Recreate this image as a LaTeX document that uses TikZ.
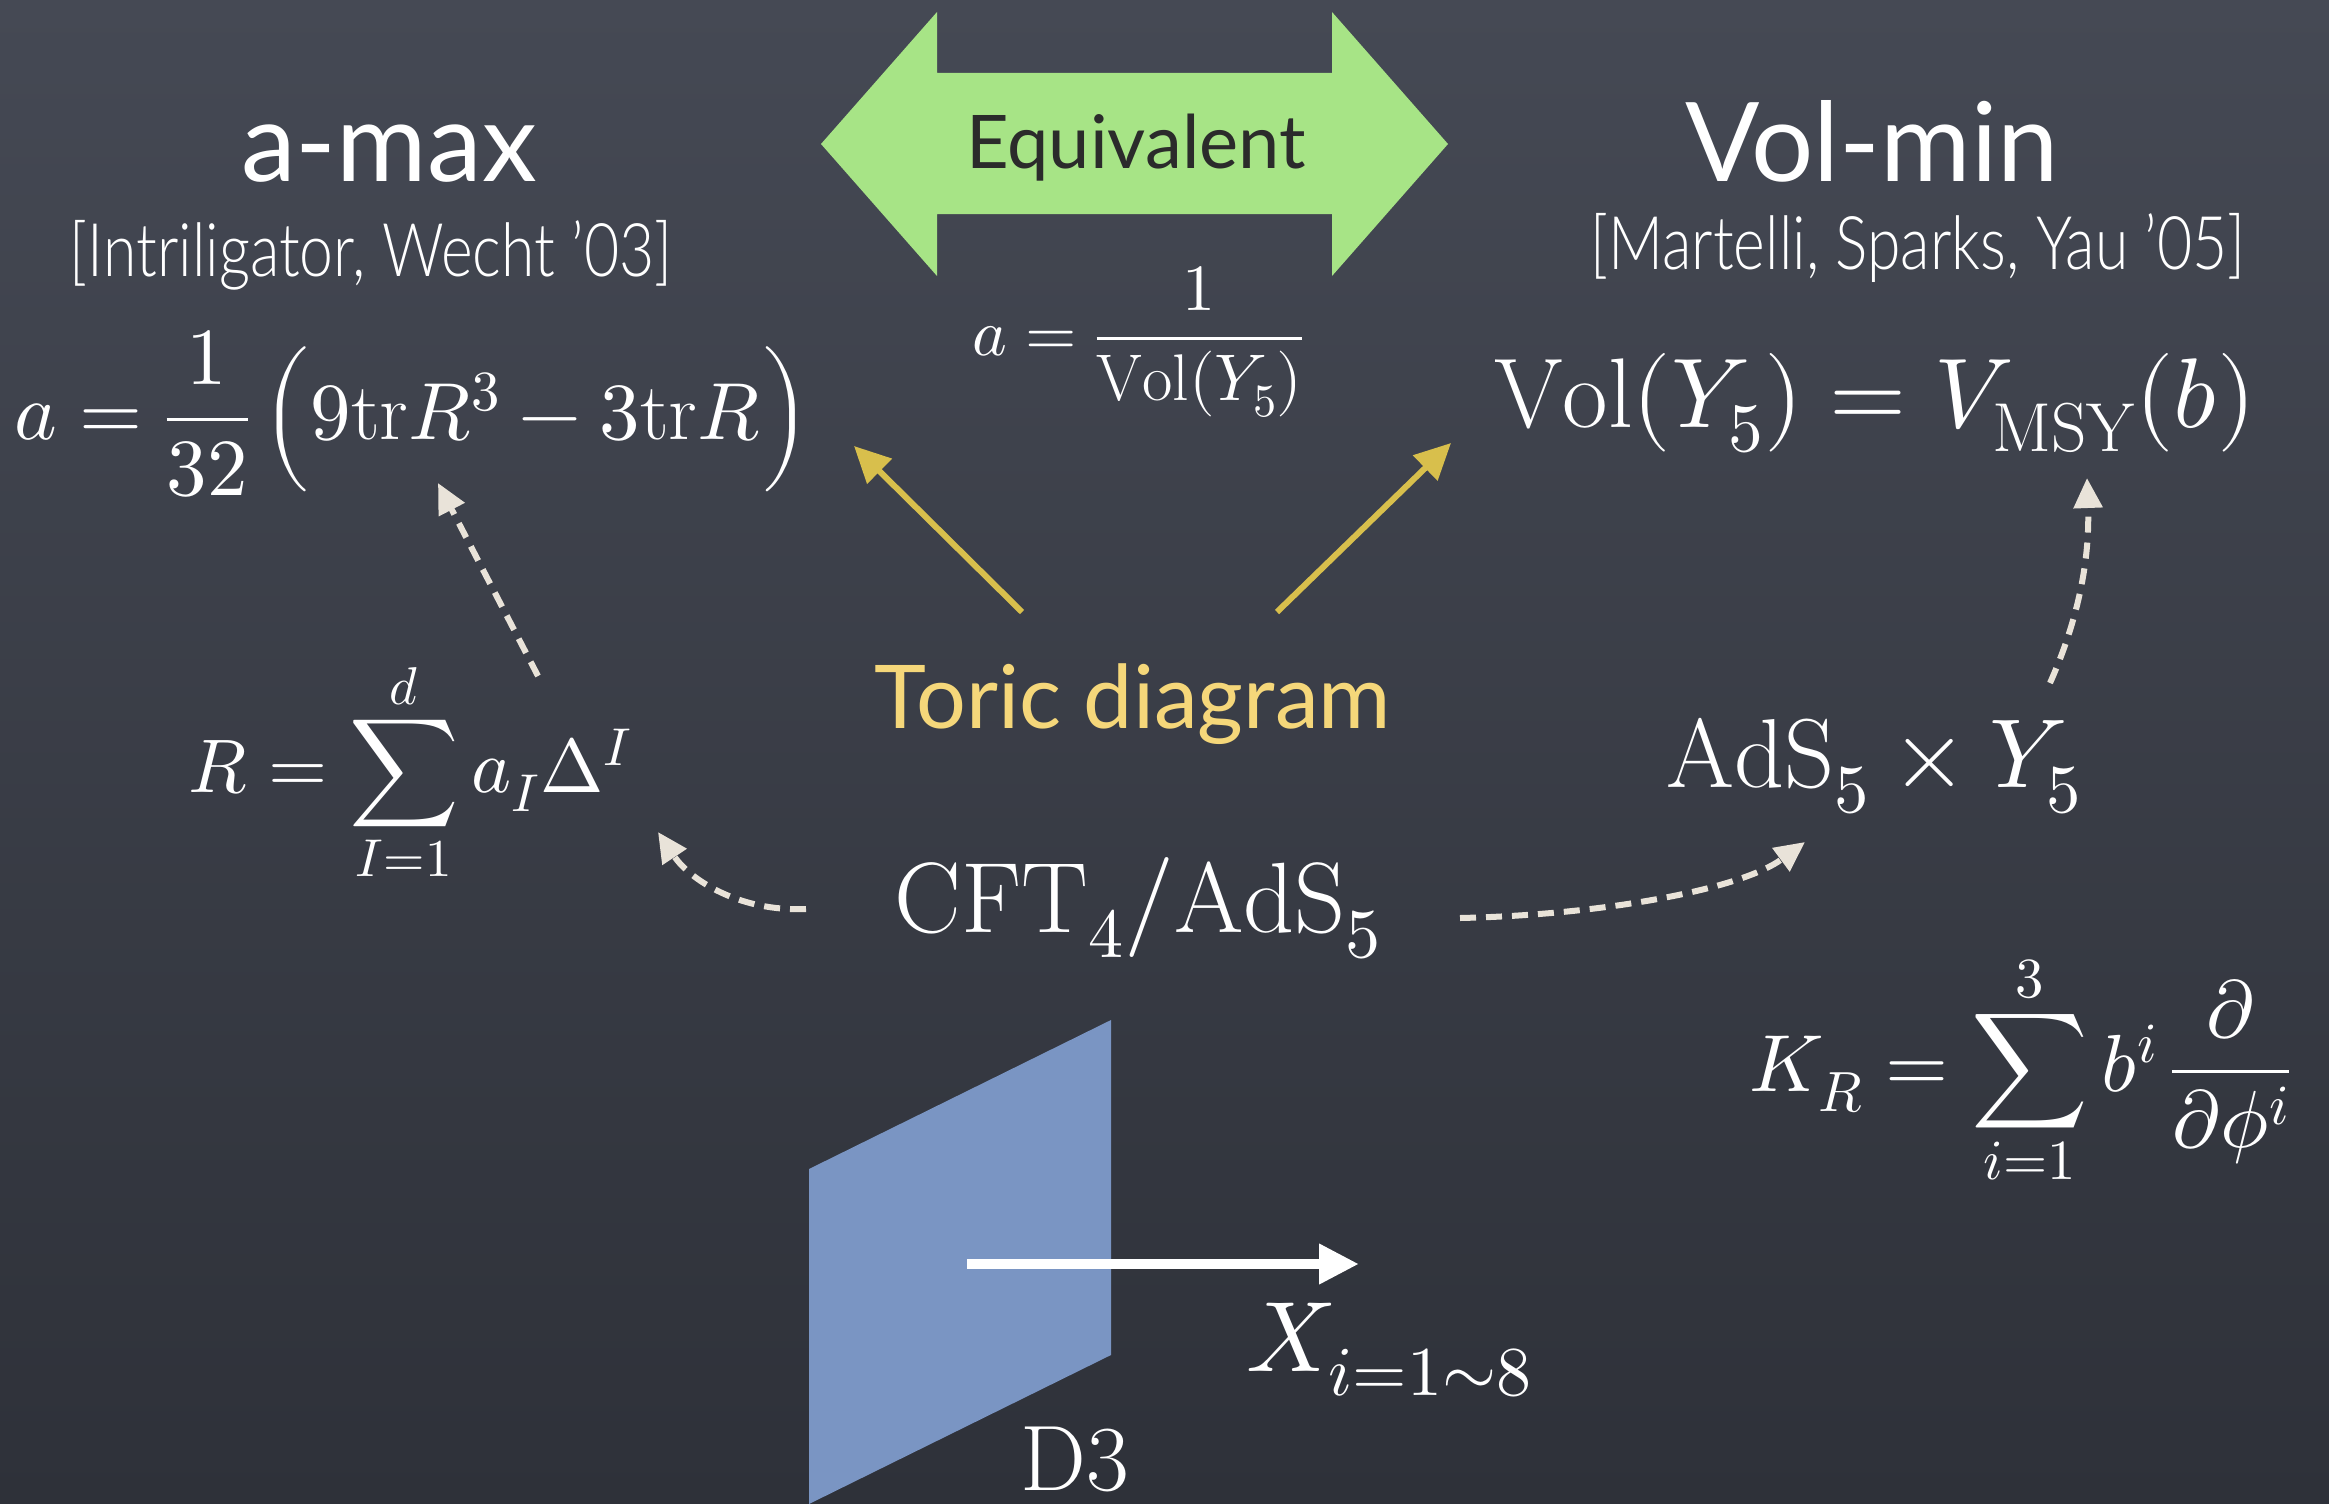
\documentclass[tikz,border=0pt]{standalone}
\usepackage{fontspec}
\usepackage{unicode-math}
\setmainfont{Latin Modern Roman}
\setmathfont{Latin Modern Math}
\newfontfamily\avn{Lato}
\newfontfamily\avncond[FakeStretch=0.82]{Lato Light}
\usetikzlibrary{arrows.meta}
\definecolor{bgtop}{HTML}{454954}
\definecolor{bgmid}{HTML}{4A4F5D}
\definecolor{bgbot}{HTML}{2E3139}
\definecolor{eqgreen}{HTML}{A7E486}
\definecolor{eqtext}{HTML}{2B2B2B}
\definecolor{toricyellow}{HTML}{F5D77A}
\definecolor{chalkyellow}{HTML}{D8BF4C}
\definecolor{cream}{HTML}{E9E3D9}
\definecolor{planeblue}{HTML}{7A95C3}
\tikzset{
  mathlbl/.style={text=white, inner sep=0pt},
  dasharrow/.style={draw=cream, line width=6pt, dash pattern=on 16pt off 10pt,
    -{Triangle[length=30pt,width=28pt,fill=cream]}},
  chalkarrow/.style={draw=chalkyellow, line width=6pt,
    -{Triangle[length=36pt,width=34pt,fill=chalkyellow]}},
  titlelbl/.style={text=white, inner sep=0pt, font=\avn\fontsize{110}{130}\selectfont},
  citelbl/.style={text=white, inner sep=0pt, font=\avncond\fontsize{74}{88}\selectfont},
}
\begin{document}
\begin{tikzpicture}[x=1pt,y=-1pt]
\useasboundingbox (0,0) rectangle (2329,1504);
\shade[top color=bgtop, middle color=bgmid, bottom color=bgbot] (0,0) rectangle (2329,1504);

% green double arrow
\fill[eqgreen] (821,144) -- (937,12) -- (937,73) -- (1332,73) -- (1332,12) -- (1448,144)
  -- (1332,276) -- (1332,214) -- (937,214) -- (937,276) -- cycle;
\node[anchor=base, text=eqtext, inner sep=0pt, font=\avn\fontsize{74}{88}\selectfont] (equiv) at (1136,168) {Equivalent};

% titles
\node[titlelbl, anchor=base] (amax) at (389,181) {a-max};
\node[citelbl, anchor=base] (cite1) at (371,276) {[Intriligator, Wecht ’03]};
\node[titlelbl, anchor=base] (volmin) at (1872,181) {Vol-min};
\node[citelbl, anchor=base] (cite2) at (1918,269) {[Martelli, Sparks, Yau ’05]};

% formulas
\node[mathlbl, font=\fontsize{81}{97}\selectfont] (aform) at (412,414)
  {$a=\dfrac{1}{32}\,\Bigl(9\mathrm{tr}R^{3}-3\mathrm{tr}R\Bigr)$};
\node[mathlbl, font=\fontsize{66}{79}\selectfont] (amid) at (1138,342)
  {$a=\dfrac{1}{\mathrm{Vol}(Y_5)}$};
\node[mathlbl, font=\fontsize{99}{119}\selectfont] (volform) at (1875,403)
  {$\mathrm{Vol}(Y_5)=V_{\mathrm{MSY}}(b)$};
\node[mathlbl, font=\fontsize{76}{91}\selectfont] (rform) at (410,772)
  {$R=\displaystyle\sum_{I=1}^{d}a_I\Delta^I$};
\node[mathlbl, font=\fontsize{98}{118}\selectfont] (ads) at (1874,766)
  {$\mathrm{AdS}_5\times Y_5$};
\node[mathlbl, font=\fontsize{100}{120}\selectfont] (cft) at (1138,908)
  {$\mathrm{CFT}_4/\mathrm{AdS}_5$};
\node[mathlbl, font=\fontsize{81}{97}\selectfont] (kform) at (2020,1070)
  {$K_R=\displaystyle\sum_{i=1}^{3}b^i\,\dfrac{\partial}{\partial\phi^i}$};

% toric diagram
\node[anchor=base, text=toricyellow, inner sep=0pt, font=\avn\fontsize{88}{105}\selectfont] (toric) at (1133,728) {Toric diagram};

% D3 plane
\fill[planeblue] (809,1169) -- (1111,1020) -- (1111,1355) -- (809,1504) -- cycle;
\coordinate (xstart) at (967,1264);
\coordinate (xend) at (1359,1264);
\draw[white, line width=10pt, -{Triangle[length=40pt,width=38pt,fill=white]}] (xstart) -- (xend);
\node[mathlbl, font=\fontsize{100}{120}\selectfont] (xlbl) at (1389,1350) {$X_{i=1\sim 8}$};
\node[mathlbl, font=\fontsize{93}{112}\selectfont, anchor=base] (d3) at (1075,1490) {D3};

% yellow chalk arrows
\coordinate (tl) at (1022,612);
\coordinate (tlend) at (854,446);
\coordinate (tr) at (1277,612);
\coordinate (trend) at (1451,443);
\draw[chalkarrow] (tl) -- (tlend);
\draw[chalkarrow] (tr) -- (trend);

% dashed arrows
\coordinate (r1) at (538,676);
\coordinate (r1end) at (438,483);
\draw[dasharrow] (r1) -- (r1end);
\coordinate (c1) at (806,909);
\coordinate (c1end) at (658,832);
\draw[dasharrow] (c1) .. controls (740,912) and (690,880) .. (c1end);
\coordinate (c2) at (1460,918);
\coordinate (c2end) at (1805,842);
\draw[dasharrow] (c2) .. controls (1600,915) and (1740,890) .. (c2end);
\coordinate (a1) at (2050,683);
\coordinate (a1end) at (2087,478);
\draw[dasharrow] (a1) .. controls (2078,620) and (2090,560) .. (a1end);
\end{tikzpicture}
\end{document}
